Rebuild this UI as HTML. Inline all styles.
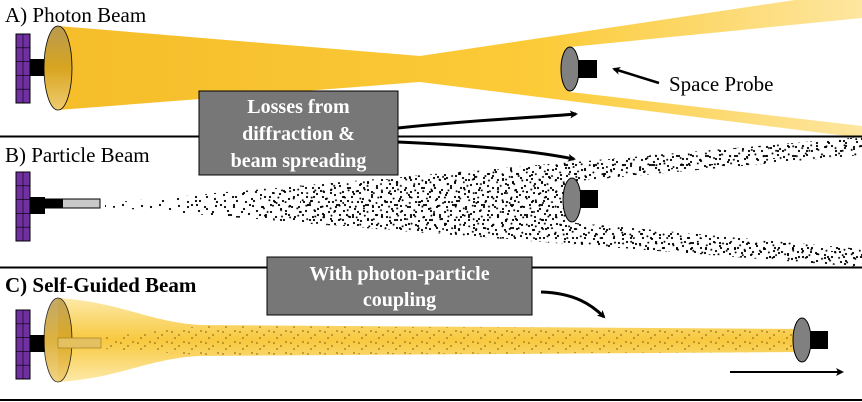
<!DOCTYPE html>
<html><head><meta charset="utf-8"><style>
body{margin:0;background:#fff;width:862px;height:402px;overflow:hidden}
svg{display:block}
</style></head><body>
<svg width="862" height="402" viewBox="0 0 862 402" xmlns="http://www.w3.org/2000/svg" font-family="Liberation Serif, serif">
<defs>
<linearGradient id="gA" x1="0" y1="0" x2="1" y2="0">
<stop offset="0" stop-color="#f5bd2a"/><stop offset="0.6" stop-color="#fccb38"/><stop offset="1" stop-color="#fde6a0"/></linearGradient>
<linearGradient id="gC" x1="0" y1="0" x2="0" y2="1">
<stop offset="0" stop-color="#fde9a8"/><stop offset="0.5" stop-color="#f8c93f"/><stop offset="1" stop-color="#fde9a8"/></linearGradient>
<linearGradient id="gE" x1="0" y1="0" x2="0" y2="1">
<stop offset="0" stop-color="#b89a50"/><stop offset="0.5" stop-color="#d8a520"/><stop offset="1" stop-color="#f0cc70"/></linearGradient>
<g id="d1" fill="#000">
<circle cx="3" cy="4" r="1.1"/><circle cx="12" cy="2" r="1.1"/><circle cx="22" cy="6" r="1.1"/><circle cx="31" cy="3" r="1.1"/>
<circle cx="7" cy="12" r="1.1"/><circle cx="17" cy="14" r="1.1"/><circle cx="27" cy="11" r="1.1"/><circle cx="35" cy="16" r="1.1"/>
<circle cx="2" cy="21" r="1.1"/><circle cx="11" cy="23" r="1.1"/><circle cx="21" cy="20" r="1.1"/><circle cx="30" cy="25" r="1.1"/>
<circle cx="15" cy="27" r="1.1"/><circle cx="25" cy="17" r="1.1"/>
</g>
<pattern id="p1" width="37" height="29" patternUnits="userSpaceOnUse"><use href="#d1"/></pattern>
<pattern id="p1b" width="37" height="29" patternUnits="userSpaceOnUse" patternTransform="translate(13 9) rotate(90 18 14)"><use href="#d1"/></pattern>
<pattern id="p1c" width="37" height="29" patternUnits="userSpaceOnUse" patternTransform="translate(21 5) scale(0.9)"><use href="#d1"/></pattern>
<pattern id="p2" width="29" height="23" patternUnits="userSpaceOnUse">
<g fill="#000">
<circle cx="5" cy="8" r="1.1"/><circle cx="16" cy="4" r="1.1"/><circle cx="24" cy="13" r="1.1"/><circle cx="10" cy="18" r="1.1"/><circle cx="20" cy="21" r="1.1"/>
</g></pattern>
<pattern id="p3" width="17" height="11" patternUnits="userSpaceOnUse">
<g fill="#7a5a08">
<circle cx="2" cy="2" r="0.9"/><circle cx="9" cy="5" r="0.9"/><circle cx="14" cy="1" r="0.9"/><circle cx="5" cy="8" r="0.9"/>
</g></pattern>
<marker id="ar" markerWidth="8" markerHeight="8" refX="6" refY="4" orient="auto" markerUnits="userSpaceOnUse"><path d="M0,0 L8,4 L0,8 L2,4Z" fill="#000"/></marker>
<g id="em">
<rect x="16" y="0" width="14" height="69" fill="#7030a0" stroke="#000"/>
<path d="M16,13.8H30M16,27.6H30M16,41.4H30M16,55.2H30M23,0V69" stroke="#000" stroke-width="0.6"/>
<rect x="30" y="25" width="15" height="17" fill="#000"/>
</g>
</defs>
<!-- Panel A beam -->
<path d="M58,26 L420,56 L862,-10 L862,138 L420,82 L58,110Z" fill="url(#gA)"/>
<path d="M570,47 L862,18 L862,126 L570,92Z" fill="#fff"/>
<!-- Panel B dots -->
<path d="M105,203 L862,137 L862,155 L566,182 L566,222 L862,249 L862,267 L105,207Z" fill="url(#p1)"/>
<path d="M180,196 L862,137 L862,155 L566,182 L566,222 L862,249 L862,267 L180,213Z" fill="url(#p1b)"/>
<path d="M260,189 L862,137 L862,155 L566,182 L566,222 L862,249 L862,267 L260,220Z" fill="url(#p1c)"/>
<path d="M300,187 L862,137 L862,150 L566,180 L566,224 L862,254 L862,267 L300,223Z" fill="url(#p2)"/>
<!-- Panel C beam -->
<path d="M58,298 C120,302 150,322 200,325 L800,329 L800,352 L200,356 C150,358 120,378 58,382Z" fill="url(#gC)"/>
<path d="M105,337 L200,326 L795,329 L795,352 L200,355 L105,349Z" fill="url(#p3)" opacity="0.8"/>
<!-- emitters -->
<use href="#em" y="34"/>
<use href="#em" y="172"/>
<use href="#em" y="310"/>
<ellipse cx="58" cy="68" rx="14" ry="42" fill="url(#gE)" stroke="#000" stroke-width="0.8"/>
<ellipse cx="58" cy="340" rx="14" ry="42" fill="url(#gE)" stroke="#000" stroke-width="0.8" opacity="0.85"/>
<!-- A probe -->
<ellipse cx="570" cy="69" rx="9" ry="22" fill="#808080" stroke="#000"/>
<rect x="578" y="60" width="19" height="18" fill="#000"/>
<line x1="659" y1="83" x2="614" y2="69" stroke="#000" stroke-width="2.5" marker-end="url(#ar)"/>
<text x="669" y="91" font-size="21">Space Probe</text>
<text x="5" y="22" font-size="21">A) Photon Beam</text>
<!-- B -->
<ellipse cx="572" cy="200" rx="9" ry="22" fill="#808080" stroke="#000"/>
<rect x="580" y="190" width="18" height="18" fill="#000"/>
<rect x="45" y="199" width="55" height="9" fill="#c8c8c8" stroke="#000"/>
<rect x="45" y="199" width="18" height="9" fill="#000"/>
<text x="5" y="162" font-size="21">B) Particle Beam</text>
<!-- C -->
<rect x="58" y="338" width="43" height="10" fill="#e4c060" stroke="#a08020" stroke-width="0.7"/>
<ellipse cx="802" cy="340" rx="9" ry="22" fill="#808080" stroke="#000"/>
<rect x="810" y="331" width="18" height="18" fill="#000"/>
<line x1="730" y1="372" x2="842" y2="372" stroke="#000" stroke-width="2" marker-end="url(#ar)"/>
<text x="5" y="292" font-size="21" font-weight="bold">C) Self-Guided Beam</text>
<!-- lines -->
<line x1="0" y1="136.5" x2="862" y2="136.5" stroke="#000" stroke-width="2"/>
<line x1="0" y1="267.5" x2="862" y2="267.5" stroke="#000" stroke-width="2"/>
<line x1="0" y1="400" x2="862" y2="400" stroke="#000" stroke-width="2"/>
<!-- boxes -->
<rect x="199" y="91" width="199" height="84" fill="#777" stroke="#000"/>
<text x="298.5" y="113" font-size="20" font-weight="bold" fill="#fff" text-anchor="middle">Losses from</text>
<text x="298.5" y="140" font-size="20" font-weight="bold" fill="#fff" text-anchor="middle">diffraction &amp;</text>
<text x="298.5" y="167" font-size="20" font-weight="bold" fill="#fff" text-anchor="middle">beam spreading</text>
<path d="M398,128 C470,120 530,118 576,114" fill="none" stroke="#000" stroke-width="3" marker-end="url(#ar)"/>
<path d="M398,142 C470,145 530,150 574,159" fill="none" stroke="#000" stroke-width="3" marker-end="url(#ar)"/>
<rect x="267" y="257" width="265" height="58" fill="#777" stroke="#000"/>
<text x="399.5" y="280" font-size="20" font-weight="bold" fill="#fff" text-anchor="middle">With photon-particle</text>
<text x="399.5" y="306" font-size="20" font-weight="bold" fill="#fff" text-anchor="middle">coupling</text>
<path d="M541,292 C575,293 592,305 604,317" fill="none" stroke="#000" stroke-width="3" marker-end="url(#ar)"/>
</svg>
</body></html>
